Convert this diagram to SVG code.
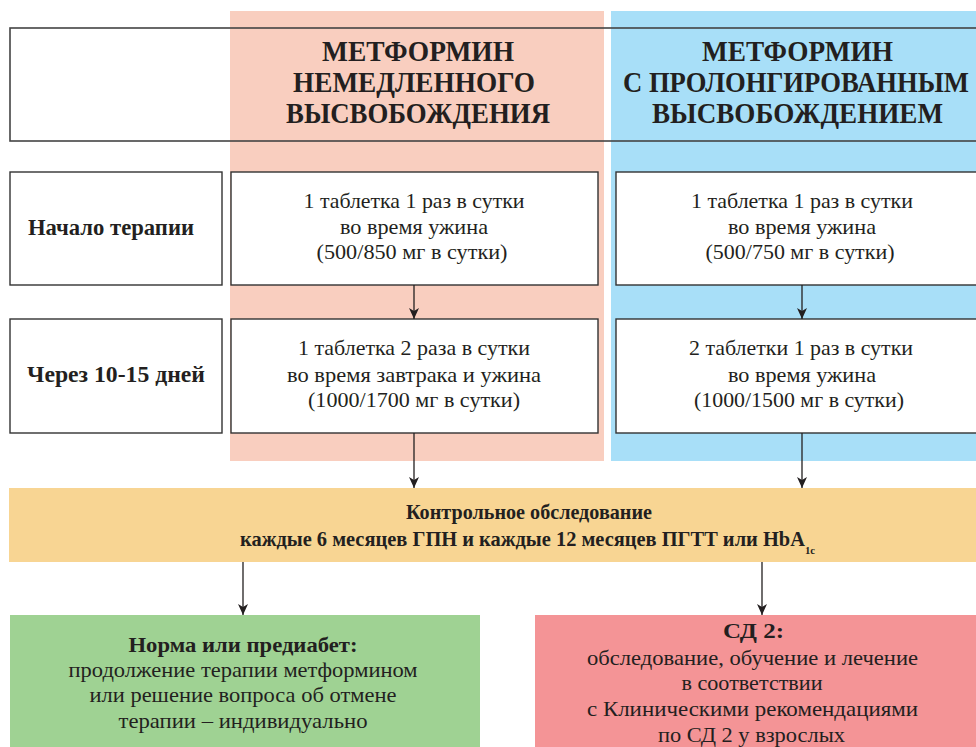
<svg xmlns="http://www.w3.org/2000/svg" width="976" height="747" viewBox="0 0 976 747" font-family="'Liberation Serif', 'Times New Roman', serif">
<defs>
<style>
.bg{fill:#ffffff}
.box{fill:#ffffff;stroke:#333333;stroke-width:1.4}
.frame{fill:none;stroke:#444444;stroke-width:1.6}
.t{fill:#231f20;text-anchor:middle}
.b{font-weight:bold}
.hd{font-size:29px;font-weight:bold}
.lb{font-size:24px;font-weight:bold}
.rg{font-size:21px}
.ob{font-size:21px;font-weight:bold}
.conn{stroke:#231f20;stroke-width:1.3;fill:none}
</style>
<marker id="arr" markerUnits="userSpaceOnUse" markerWidth="11" markerHeight="10" viewBox="0 0 11 10" refX="11" refY="5" orient="auto">
<path d="M0,0 L3,5 L0,10 L11,5 Z" fill="#231f20"/>
</marker>
</defs>
<rect x="0" y="0" width="976" height="747" class="bg"/>

<g id="band-immediate"><rect x="230" y="11" width="374" height="450" fill="#f9cebf"/></g>
<g id="band-prolonged"><rect x="611" y="11" width="370" height="450" fill="#a8dff8"/></g>

<g id="header">
<rect x="10" y="28" width="1000" height="113" class="frame"/>
<text class="t hd" x="418" y="61" textLength="192" lengthAdjust="spacingAndGlyphs">МЕТФОРМИН</text>
<text class="t hd" x="414" y="92" textLength="242" lengthAdjust="spacingAndGlyphs">НЕМЕДЛЕННОГО</text>
<text class="t hd" x="418" y="123" textLength="264" lengthAdjust="spacingAndGlyphs">ВЫСВОБОЖДЕНИЯ</text>
<text class="t hd" x="797.5" y="61" textLength="191" lengthAdjust="spacingAndGlyphs">МЕТФОРМИН</text>
<text class="t hd" x="796" y="92" textLength="346" lengthAdjust="spacingAndGlyphs">С ПРОЛОНГИРОВАННЫМ</text>
<text class="t hd" x="797.5" y="123" textLength="291" lengthAdjust="spacingAndGlyphs">ВЫСВОБОЖДЕНИЕМ</text>
</g>

<g id="label-start">
<rect x="10" y="172" width="212" height="113" class="box"/>
<text class="t lb" x="111" y="235" textLength="166" lengthAdjust="spacingAndGlyphs">Начало терапии</text>
</g>
<g id="label-later">
<rect x="10" y="319" width="212" height="114" class="box"/>
<text class="t lb" x="116" y="382" textLength="178" lengthAdjust="spacingAndGlyphs">Через 10-15 дней</text>
</g>

<g id="ir-start">
<rect x="231" y="172" width="367" height="113" class="box"/>
<text class="t rg" x="414" y="208" textLength="221" lengthAdjust="spacingAndGlyphs">1 таблетка 1 раз в сутки</text>
<text class="t rg" x="414" y="234" textLength="148" lengthAdjust="spacingAndGlyphs">во время ужина</text>
<text class="t rg" x="412" y="259" textLength="191" lengthAdjust="spacingAndGlyphs">(500/850 мг в сутки)</text>
</g>
<g id="ir-later">
<rect x="231" y="319" width="367" height="114" class="box"/>
<text class="t rg" x="414" y="355" textLength="232" lengthAdjust="spacingAndGlyphs">1 таблетка 2 раза в сутки</text>
<text class="t rg" x="414" y="382" textLength="254" lengthAdjust="spacingAndGlyphs">во время завтрака и ужина</text>
<text class="t rg" x="414" y="407" textLength="212" lengthAdjust="spacingAndGlyphs">(1000/1700 мг в сутки)</text>
</g>

<g id="xr-start">
<rect x="616" y="172" width="380" height="113" class="box"/>
<text class="t rg" x="802" y="208" textLength="222" lengthAdjust="spacingAndGlyphs">1 таблетка 1 раз в сутки</text>
<text class="t rg" x="802" y="234" textLength="148" lengthAdjust="spacingAndGlyphs">во время ужина</text>
<text class="t rg" x="800" y="259" textLength="189" lengthAdjust="spacingAndGlyphs">(500/750 мг в сутки)</text>
</g>
<g id="xr-later">
<rect x="616" y="319" width="380" height="114" class="box"/>
<text class="t rg" x="801" y="355" textLength="224" lengthAdjust="spacingAndGlyphs">2 таблетки 1 раз в сутки</text>
<text class="t rg" x="802" y="382" textLength="148" lengthAdjust="spacingAndGlyphs">во время ужина</text>
<text class="t rg" x="799" y="407" textLength="210" lengthAdjust="spacingAndGlyphs">(1000/1500 мг в сутки)</text>
</g>

<g id="control">
<rect x="9" y="488" width="980" height="74" fill="#f8d593"/>
<text class="t ob" x="529" y="519" textLength="246" lengthAdjust="spacingAndGlyphs">Контрольное обследование</text>
<text class="t ob" x="240" y="546" style="text-anchor:start" textLength="575" lengthAdjust="spacingAndGlyphs">каждые 6 месяцев ГПН и каждые 12 месяцев ПГТТ или HbA<tspan dy="8" style="font-size:11px">1c</tspan></text>
</g>

<g id="normal">
<rect x="10" y="615" width="470" height="140" fill="#9fd293"/>
<text class="t ob" x="243" y="652" style="font-size:22px" textLength="229" lengthAdjust="spacingAndGlyphs">Норма или предиабет:</text>
<text class="t rg" x="243" y="677" textLength="349" lengthAdjust="spacingAndGlyphs">продолжение терапии метформином</text>
<text class="t rg" x="243" y="702" textLength="307" lengthAdjust="spacingAndGlyphs">или решение вопроса об отмене</text>
<text class="t rg" x="243" y="728" textLength="249" lengthAdjust="spacingAndGlyphs">терапии – индивидуально</text>
</g>

<g id="diabetes">
<rect x="535" y="615" width="450" height="140" fill="#f49496"/>
<text class="t ob" x="753.5" y="638" style="font-size:22px" textLength="61" lengthAdjust="spacingAndGlyphs">СД 2:</text>
<text class="t rg" x="752.5" y="665" textLength="331" lengthAdjust="spacingAndGlyphs">обследование, обучение и лечение</text>
<text class="t rg" x="752" y="690" textLength="141" lengthAdjust="spacingAndGlyphs">в соответствии</text>
<text class="t rg" x="752.5" y="716" textLength="331" lengthAdjust="spacingAndGlyphs">с Клиническими рекомендациями</text>
<text class="t rg" x="751.5" y="742" textLength="187" lengthAdjust="spacingAndGlyphs">по СД 2  у взрослых</text>
</g>

<g id="connectors">
<line class="conn" x1="414" y1="285" x2="414" y2="319" marker-end="url(#arr)"/>
<line class="conn" x1="802" y1="285" x2="802" y2="319" marker-end="url(#arr)"/>
<line class="conn" x1="414" y1="433" x2="414" y2="488" marker-end="url(#arr)"/>
<line class="conn" x1="802" y1="433" x2="802" y2="488" marker-end="url(#arr)"/>
<line class="conn" x1="243" y1="562" x2="243" y2="615" marker-end="url(#arr)"/>
<line class="conn" x1="762" y1="562" x2="762" y2="615" marker-end="url(#arr)"/>
</g>
</svg>
